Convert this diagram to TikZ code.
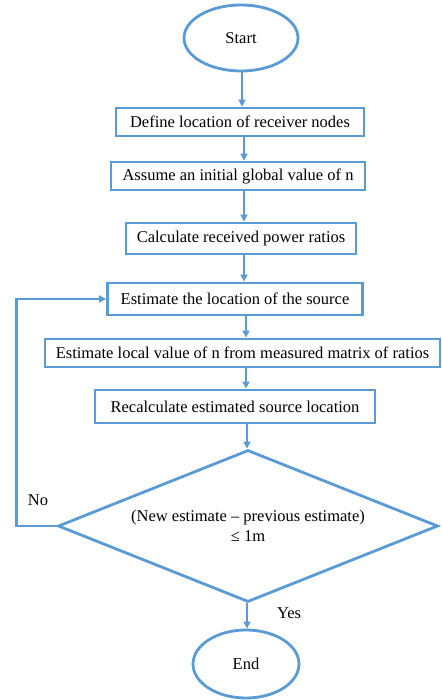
\documentclass[tikz,border=0pt]{standalone}
\usepackage{fontspec}
\setmainfont{Liberation Serif}
\usetikzlibrary{shapes.geometric,arrows.meta}
\definecolor{flowblue}{RGB}{91,155,213}
\begin{document}
\begin{tikzpicture}[x=1pt,y=-1pt,
  font=\fontsize{16.5}{20}\selectfont,
  line width=2.8pt,
  every node/.style={inner sep=0pt},
  box/.style={draw=flowblue,rectangle,fill=white},
  oval/.style={draw=flowblue,ellipse},
  decision/.style={draw=flowblue,diamond,shape aspect=2.5,align=center},
  arr/.style={draw=flowblue,-{Triangle[length=7pt,width=7pt]}},
  lbl/.style={font=\fontsize{16.5}{20}\selectfont}]
\useasboundingbox (0,0) rectangle (441,700);
\node[oval,minimum width=114pt,minimum height=66pt] (start) at (241,38) {Start};
\node[box,minimum width=248pt,minimum height=28pt] (b1) at (240,122) {Define location of receiver nodes};
\node[box,minimum width=254pt,minimum height=28pt] (b2) at (238,176) {Assume an initial global value of n};
\node[box,minimum width=230pt,minimum height=31pt] (b3) at (241,238.5) {Calculate received power ratios};
\node[box,minimum width=255pt,minimum height=32pt] (b4) at (235,299) {Estimate the location of the source};
\node[box,minimum width=395pt,minimum height=28pt] (b5) at (242.5,353) {Estimate local value of n from measured matrix of ratios};
\node[box,minimum width=280pt,minimum height=33pt] (b6) at (235,406.5) {Recalculate estimated source location};
\node[decision,minimum width=380pt,minimum height=152pt] (dec) at (248,526) {(New estimate – previous estimate)\\ ≤ 1m};
\node[oval,minimum width=106pt,minimum height=68pt] (end) at (246,664) {End};
\node[lbl] (no) at (38,500) {No};
\node[lbl] (yes) at (289,613) {Yes};
\coordinate (ax1) at (242,0);
\coordinate (ax2) at (244,0);
\coordinate (ax3) at (246,0);
\coordinate (ax4) at (247,0);
\draw[arr] (start.south -| ax1) -- (b1.north -| ax1);
\draw[arr] (b1.south -| ax2) -- (b2.north -| ax2);
\draw[arr] (b2.south -| ax2) -- (b3.north -| ax2);
\draw[arr] (b3.south -| ax2) -- (b4.north -| ax2);
\draw[arr] (b4.south -| ax3) -- (b5.north -| ax3);
\draw[arr] (b5.south -| ax3) -- (b6.north -| ax3);
\draw[arr] (b6.south -| ax4) -- (dec.north -| ax4);
\draw[arr] (dec.south -| ax4) -- (end.north -| ax4);
\draw[arr] (dec.west) -- ++(-40,0) |- (b4.west);
\end{tikzpicture}
\end{document}
